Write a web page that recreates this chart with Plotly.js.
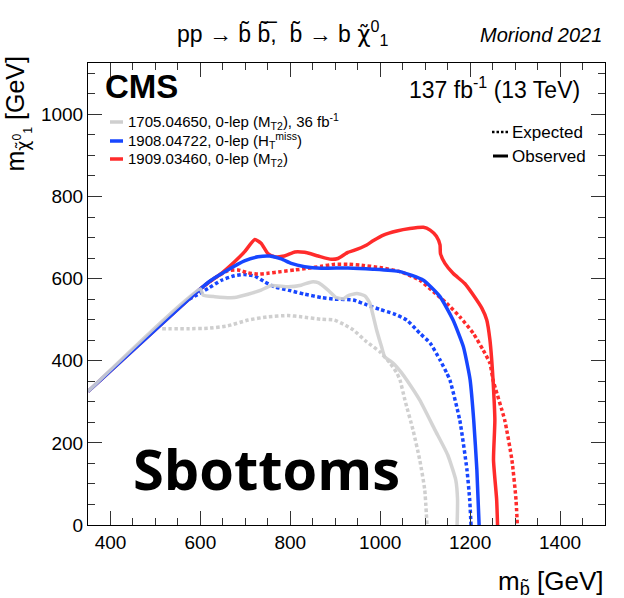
<!DOCTYPE html>
<html>
<head>
<meta charset="utf-8">
<script src="https://cdn.plot.ly/plotly-3.0.1.min.js"></script>
<style>html,body{margin:0;padding:0;background:#fff;}#chart{width:624px;height:598px;}</style>
</head>
<body>
<div id="chart"></div>
<script>
// ---- data (GeV) ----
const obs1705_x = [350, 600, 606, 632, 676, 706, 735, 758, 795, 824, 847, 862, 884, 902, 918, 928, 948, 966, 977, 984, 992, 1003, 1010, 1029, 1048, 1059, 1088, 1122, 1150, 1168, 1172, 1171];
const obs1705_y = [325, 575, 560, 556, 554, 562, 572, 583, 580, 584, 592, 590, 572, 554, 551, 558, 564, 558, 540, 511, 475, 434, 410, 394, 370, 353, 304, 231, 171, 110, 62, 0];
const exp1705_x = [515, 572, 617, 661, 706, 750, 795, 824, 869, 898, 918, 940, 970, 999, 1022, 1037, 1044, 1055, 1073, 1088, 1099, 1104];
const exp1705_y = [478, 478, 479, 485, 499, 507, 510, 507, 501, 499, 489, 475, 446, 422, 394, 370, 353, 304, 231, 158, 86, 0];
const obs1908_x = [350, 600, 624, 661, 698, 728, 754, 780, 802, 832, 869, 928, 984, 1044, 1096, 1133, 1162, 1185, 1196, 1200, 1208, 1215, 1220];
const obs1908_y = [325, 575, 596, 621, 643, 653, 655, 648, 637, 629, 625, 626, 623, 617, 596, 556, 499, 434, 378, 353, 255, 134, 0];
const exp1908_x = [575, 587, 617, 647, 676, 698, 721, 743, 765, 795, 832, 869, 899, 940, 970, 999, 1029, 1059, 1088, 1111, 1133, 1148, 1155, 1177, 1193, 1199, 1202];
const exp1908_y = [550, 557, 576, 596, 607, 610, 606, 592, 580, 572, 562, 554, 550, 548, 536, 525, 515, 499, 467, 443, 402, 370, 353, 255, 134, 62, 0];
const obs1909_x = [350, 600, 624, 647, 676, 698, 721, 735, 750, 765, 787, 810, 832, 862, 891, 906, 928, 940, 970, 984, 1007, 1037, 1066, 1096, 1111, 1125, 1133, 1134, 1144, 1162, 1188, 1207, 1226, 1237, 1244, 1248, 1251, 1255, 1252, 1259, 1261];
const obs1909_y = [325, 575, 595, 613, 641, 665, 695, 686, 661, 653, 655, 665, 664, 655, 647, 649, 664, 668, 682, 692, 706, 716, 722, 725, 718, 703, 682, 661, 637, 613, 588, 560, 528, 499, 451, 402, 353, 255, 158, 62, 0];
const exp1909_x = [600, 630, 661, 684, 706, 728, 750, 780, 810, 839, 869, 899, 928, 955, 999, 1044, 1088, 1118, 1148, 1177, 1207, 1229, 1244, 1251, 1277, 1293, 1302, 1305];
const exp1909_y = [575, 600, 619, 621, 614, 611, 613, 617, 621, 625, 630, 635, 635, 633, 627, 617, 596, 568, 540, 507, 467, 426, 394, 353, 255, 158, 62, 0];

const legendLabels = [
  "1705.04650, 0-lep (M<sub>T2</sub>), 36 fb<sup>-1</sup>",
  "1908.04722, 0-lep (H<sub>T</sub><sup>miss</sup>)",
  "1909.03460, 0-lep (M<sub>T2</sub>)"
];
const xTicks = [400, 600, 800, 1000, 1200, 1400];
const yTicks = [0, 200, 400, 600, 800, 1000];

// ---- style ----
const GRAY = "#cfcfcf", BLUE = "#1746ff", RED = "#ff2b2b";
const FONT = "Liberation Sans, Arial, Helvetica, sans-serif";
const W = 624, H = 598, L = 88, R = 19, T = 63, B = 73;
const PW = W - L - R, PH = H - T - B;
const px = x => (x - L) / PW;
const py = y => (H - B - y) / PH;
const DOT = "3.5px,2.5px";
const CHI = "<span style='font-family:DejaVu Sans'>\u03c7\u0303</span>";

function tr(x, y, color, dash, opacity) {
  return {x: x, y: y, type: "scatter", mode: "lines", showlegend: false, hoverinfo: "skip",
    opacity: opacity || 1,
    line: {color: color, width: 3.5, dash: dash, shape: "spline", smoothing: 0.5}};
}
const data = [
  tr(exp1705_x, exp1705_y, GRAY, DOT),
  tr(exp1908_x, exp1908_y, BLUE, DOT),
  tr(exp1909_x, exp1909_y, RED, DOT),
  tr(obs1909_x, obs1909_y, RED, "solid"),
  tr(obs1908_x, obs1908_y, BLUE, "solid"),
  tr(obs1705_x, obs1705_y, GRAY, "solid", 0.9)
];

const axisCommon = {
  showgrid: false, zeroline: false, showline: true, linecolor: "#000", linewidth: 1,
  mirror: "ticks", ticks: "inside", ticklen: 14, tickwidth: 1, tickcolor: "#333",
  tickfont: {family: FONT, size: 19, color: "#000"},
  minor: {dtick: 50, ticks: "inside", ticklen: 7, tickwidth: 1, tickcolor: "#333"}
};

const ann = [];
function text(x, y, t, size, opts) {
  ann.push(Object.assign({xref: "paper", yref: "paper", x: px(x), y: py(y), text: t, showarrow: false,
    font: {family: FONT, size: size, color: "#000"}, xanchor: "left", yanchor: "middle"}, opts || {}));
}
text(283, 33, "pp \u2192 b\u0303\u00a0b\u0303\u0305,\u00a0\u00a0b\u0303 \u2192 b\u00a0" + CHI + "<sup>0</sup><sub>1</sub>", 23, {xanchor: "center"});
text(604, 35, "<i>Moriond 2021</i>", 20, {xanchor: "right"});
text(103, 86, "<b>CMS</b>", 33);
text(582, 88, "137 fb<sup>-1</sup> (13 TeV)", 23, {xanchor: "right"});
text(126, 122, legendLabels[0], 15);
text(126, 141, legendLabels[1], 15);
text(126, 159, legendLabels[2], 15);
text(510, 132, "Expected", 17);
text(510, 156, "Observed", 17);
text(266, 468, "<b>Sbottoms</b>", 56, {xanchor: "center", font: {family: "Open Sans, sans-serif", size: 56, color: "#000"}});
text(606, 582, "m<sub>b\u0303</sub> [GeV]", 26, {xanchor: "right"});
text(18, 55, "m<sub>" + CHI + "<sup>0</sup><sub>1</sub></sub> [GeV]", 25, {xanchor: "center", yanchor: "top", textangle: -90});

function seg(x0, x1, y, color, dash, w) {
  return {type: "line", xref: "paper", yref: "paper", x0: px(x0), x1: px(x1), y0: py(y), y1: py(y),
    line: {color: color, width: w || 3.5, dash: dash || "solid"}};
}
const shapes = [
  seg(110, 123, 122, GRAY),
  seg(110, 123, 141, BLUE),
  seg(110, 123, 159, RED),
  seg(492, 508, 132, "#000", "2.5px,2px", 2.5),
  seg(493, 508, 156, "#000", "solid", 3)
];

const layout = {
  width: W, height: H,
  margin: {l: L, r: R, t: T, b: B, pad: 0},
  paper_bgcolor: "#fff", plot_bgcolor: "#fff",
  showlegend: false,
  xaxis: Object.assign({}, axisCommon, {range: [350, 1500], tickvals: xTicks, ticktext: xTicks.map(String)}),
  yaxis: Object.assign({}, axisCommon, {range: [0, 1125], tickvals: yTicks, ticktext: yTicks.map(String)}),
  annotations: ann,
  shapes: shapes
};
Plotly.newPlot("chart", data, layout, {staticPlot: true, displayModeBar: false});
</script>
</body>
</html>
